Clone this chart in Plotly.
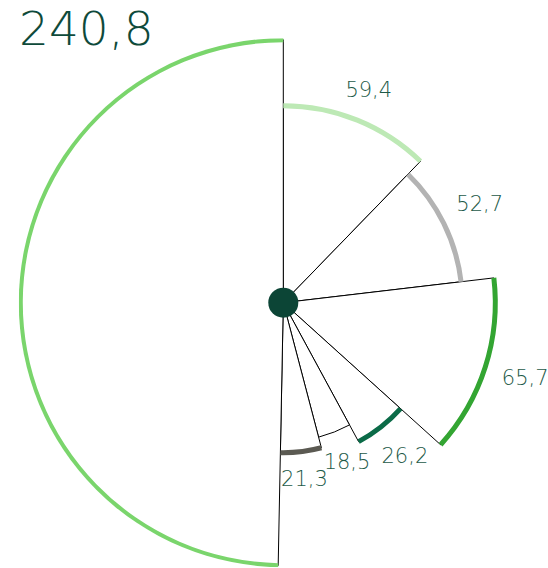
import math
import plotly.graph_objects as go

# ---- data ----
labels = ["59,4", "52,7", "65,7", "26,2", "18,5", "21,3", "240,8"]
values = [59.4, 52.7, 65.7, 26.2, 18.5, 21.3, 240.8]
radius = [197, 179, 212, 158, 139, 150, 263]          # outer radius of each wedge (chart units)
arc_colors = ["#bde9b5", "#b3b3b3", "#33a532", "#0b6b48", None, "#5b5a52", "#7ad56c"]

# ---- layout constants ----
W, H = 548, 568
CX, CY = 283.3, 302.7      # polar centre in figure pixels
RMAX = 264.5               # radial axis maximum (1 unit = 1 px)
RING = 5                   # thickness of the coloured arc
TEXT_COLOR = "#1d5a48"
FONT = "DejaVu Sans"
LABEL_SIZE = 21
LABEL_GAP = 17

total = sum(values)
scale = 360.0 / total
widths = [v * scale for v in values]
thetas = []
acc = 0.0
for v in values:
    thetas.append((acc + v / 2) * scale)
    acc += v

# label distance: gap beyond the arc plus the half-extent of the text box in the radial direction
label_r = []
for lab, r, t in zip(labels[:-1], radius[:-1], thetas[:-1]):
    a = math.radians(t)
    hw = 0.5 * 0.55 * LABEL_SIZE * len(lab)
    hh = (0.25 if math.cos(a) > 0 else 0.45) * LABEL_SIZE
    label_r.append(r + LABEL_GAP + abs(math.sin(a)) * hw + abs(math.cos(a)) * hh)

fig = go.Figure()

# wedges with thin black outline
fig.add_trace(go.Barpolar(
    r=radius, theta=thetas, width=widths, base=0,
    marker=dict(color="white", line=dict(color="black", width=1)),
    hoverinfo="skip", showlegend=False,
))

# coloured arcs on the outer edge
ring_idx = [i for i, c in enumerate(arc_colors) if c]
fig.add_trace(go.Barpolar(
    r=[RING] * len(ring_idx),
    base=[radius[i] - RING / 2 for i in ring_idx],
    theta=[thetas[i] for i in ring_idx],
    width=[widths[i] for i in ring_idx],
    marker=dict(color=[arc_colors[i] for i in ring_idx], line=dict(width=0)),
    hoverinfo="skip", showlegend=False,
))

# value labels outside the arcs (all but the big one)
fig.add_trace(go.Scatterpolar(
    r=label_r, theta=thetas[:-1], text=labels[:-1],
    mode="text", textfont=dict(family=FONT, size=LABEL_SIZE, color=TEXT_COLOR, weight=200),
    hoverinfo="skip", showlegend=False, cliponaxis=False,
))

# centre dot
fig.add_trace(go.Scatterpolar(
    r=[0], theta=[0], mode="markers",
    marker=dict(size=30, color="#0c4536"),
    hoverinfo="skip", showlegend=False, cliponaxis=False,
))

fig.update_layout(
    width=W, height=H,
    margin=dict(l=0, r=0, t=0, b=0),
    paper_bgcolor="white", plot_bgcolor="white",
    hovermode=False,
    polar=dict(
        domain=dict(x=[(CX - RMAX) / W, (CX + RMAX) / W],
                    y=[1 - (CY + RMAX) / H, 1 - (CY - RMAX) / H]),
        bgcolor="white",
        bargap=0,
        angularaxis=dict(rotation=90, direction="clockwise", visible=False,
                         showgrid=False, showline=False, showticklabels=False, ticks=""),
        radialaxis=dict(range=[0, RMAX], visible=False, showgrid=False,
                        showline=False, showticklabels=False, ticks=""),
    ),
    annotations=[dict(
        text=labels[-1], x=18 / W, y=1, xref="paper", yref="paper",
        xanchor="left", yanchor="top", showarrow=False, borderpad=0,
        font=dict(family=FONT, size=47, color="#0e4a3a", weight=200),
    )],
)

fig.write_html("out.html", config={"displayModeBar": False},
               post_script="document.body.style.margin='0';")
